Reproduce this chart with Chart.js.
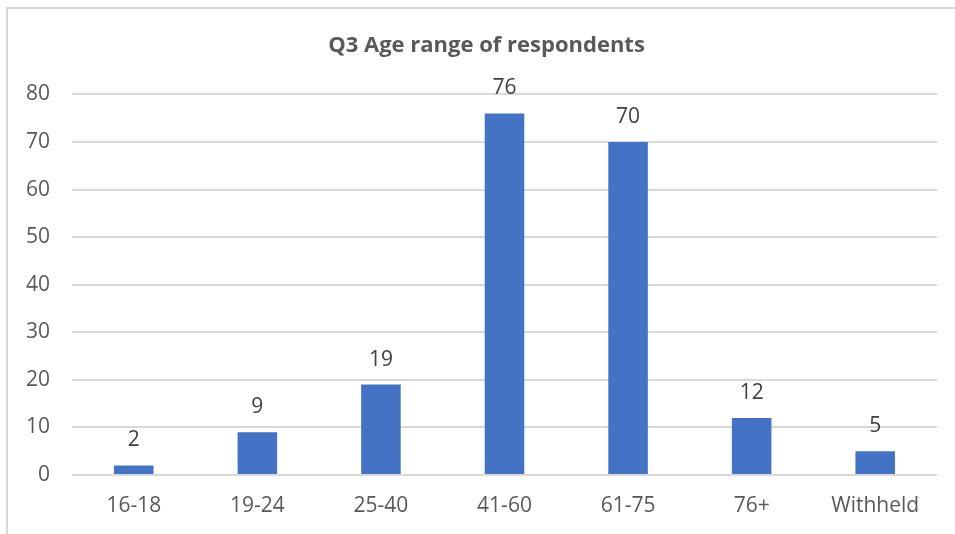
<!DOCTYPE html>
<html>
<head>
<meta charset="utf-8">
<script src="https://cdn.jsdelivr.net/npm/chart.js@4"></script>
<style>
  html, body { margin: 0; padding: 0; background: #fff; }
  #wrap { position: relative; width: 955px; height: 534px; overflow: hidden; }
  #frame {
    position: absolute; left: 6px; top: 7px; width: 980px; height: 560px;
    border: 2px solid #d9d9d9; box-sizing: border-box;
  }
  #chart { position: absolute; left: 0; top: 0; }
</style>
</head>
<body>
<div id="wrap">
  <div id="frame"></div>
  <canvas id="chart" width="955" height="534"></canvas>
</div>
<script>
(function () {

  const categories = ["16-18", "19-24", "25-40", "41-60", "61-75", "76+", "Withheld"];
  const respondents = [2, 9, 19, 76, 70, 12, 5];
  const yTicks = [0, 10, 20, 30, 40, 50, 60, 70, 80];

  const FONT = "'Open Sans', 'Liberation Sans', sans-serif";
  const TEXT = "#595959";

  /* value labels above each bar */
  const barValues = {
    id: "barValues",
    afterDatasetsDraw(chart) {
      const ctx = chart.ctx;
      const meta = chart.getDatasetMeta(0);
      ctx.save();
      ctx.font = "21px " + FONT;
      ctx.fillStyle = "#404040";
      ctx.textAlign = "center";
      ctx.textBaseline = "middle";
      meta.data.forEach((bar, i) => {
        ctx.fillText(String(respondents[i]), bar.x, bar.y - 25);
      });
      ctx.restore();
    }
  };

  /* nudge the title a little right, like the original */
  const titleShift = {
    id: "titleShift",
    afterLayout(chart) {
      if (chart.titleBlock) chart.titleBlock.left += 26;
    }
  };

  new Chart(document.getElementById("chart").getContext("2d"), {
    type: "bar",
    data: {
      labels: categories,
      datasets: [{
        label: "Q3 Age range of respondents",
        data: respondents,
        backgroundColor: "#4472c4",
        borderWidth: 0,
        barPercentage: 0.32,
        categoryPercentage: 1
      }]
    },
    options: {
      responsive: false,
      animation: false,
      layout: { padding: { left: 10, right: 18, top: 0, bottom: 0 } },
      plugins: {
        legend: { display: false },
        tooltip: { enabled: false },
        title: {
          display: true,
          text: "Q3 Age range of respondents",
          color: TEXT,
          font: { family: FONT, size: 22, weight: "bold" },
          padding: { top: 33, bottom: 35 }
        }
      },
      scales: {
        x: {
          afterFit(scale) { scale.height = 59; },
          grid: { display: false, drawTicks: false },
          border: { display: false },
          ticks: {
            color: TEXT,
            font: { family: FONT, size: 21 },
            padding: 18,
            maxRotation: 0
          }
        },
        y: {
          min: 0,
          max: 80,
          afterFit(scale) { scale.width = 62; },
          afterBuildTicks(scale) { scale.ticks = yTicks.map(v => ({ value: v })); },
          grid: { color: "#d9d9d9", lineWidth: 2, drawTicks: false },
          border: { display: false },
          ticks: {
            color: TEXT,
            font: { family: FONT, size: 21 },
            padding: 22
          }
        }
      }
    },
    plugins: [barValues, titleShift]
  });

})();
</script>
</body>
</html>
